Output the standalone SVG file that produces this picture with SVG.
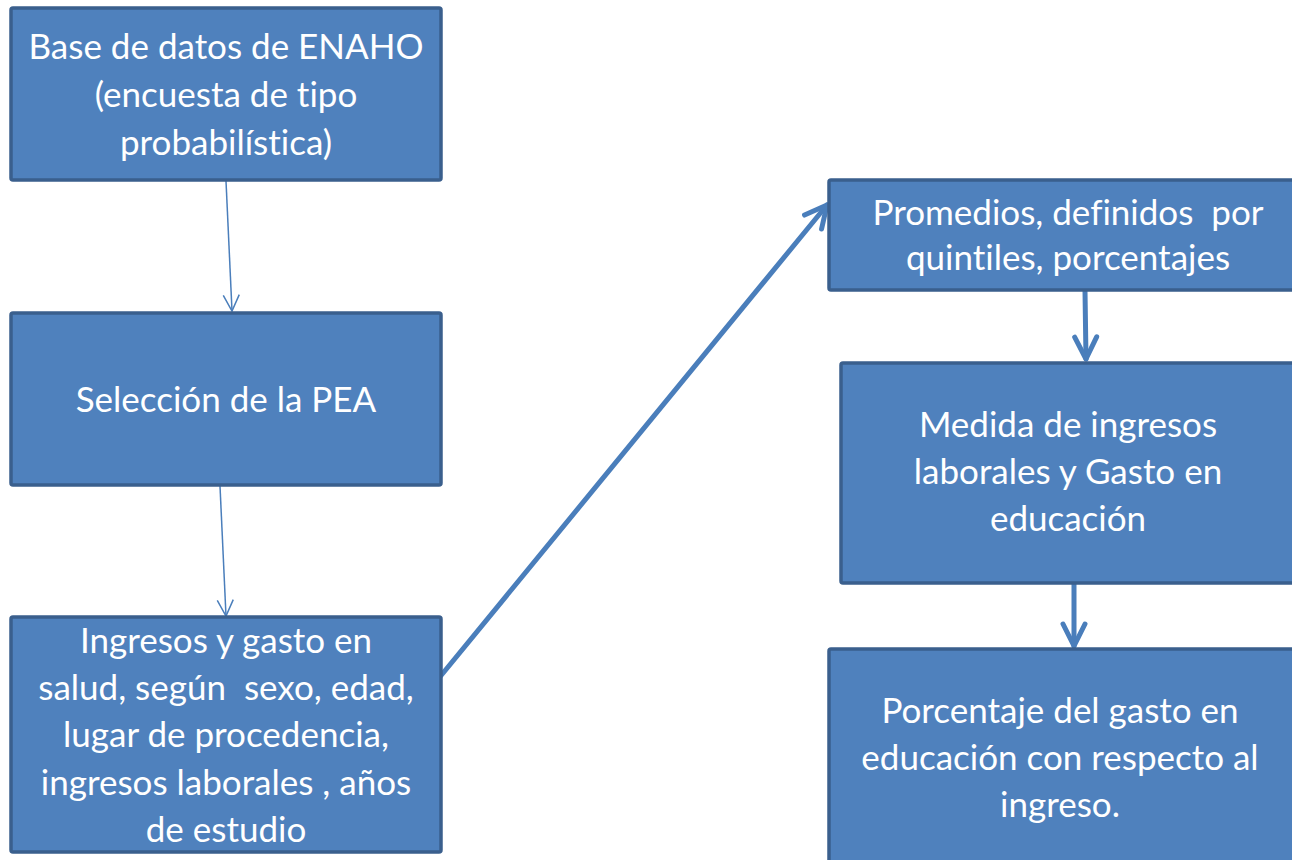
<svg xmlns="http://www.w3.org/2000/svg" width="1292" height="860" viewBox="0 0 1292 860">
<defs>
<style>
.box{fill:#4f81bd;stroke:#3a5f8d;stroke-width:3.5}
.t{font-family:Lato,"Liberation Sans",sans-serif;font-size:35px;fill:#ffffff;text-anchor:middle;font-variant-ligatures:none;white-space:pre}
.thin{stroke:#4a7ebb;stroke-width:1.5;fill:none}
.thick{stroke:#4a7ebb;stroke-width:5;fill:none;stroke-linecap:round}
</style>
<marker id="ah" viewBox="0 0 20 20" refX="18" refY="10" markerWidth="20" markerHeight="20" markerUnits="userSpaceOnUse" orient="auto">
<path d="M2,2 L18,10 L2,18" fill="none" stroke="#4a7ebb" stroke-width="1.5"/>
</marker>
<marker id="ahb" viewBox="0 0 30 30" refX="26" refY="15" markerWidth="30" markerHeight="30" markerUnits="userSpaceOnUse" orient="auto">
<path d="M4,4 L26,15 L4,26" fill="none" stroke="#4a7ebb" stroke-width="5" stroke-linecap="round" stroke-linejoin="round"/>
</marker>
</defs>
<rect width="1292" height="860" fill="#ffffff"/>
<g id="connectors">
<line class="thin" x1="226" y1="181" x2="232" y2="311" marker-end="url(#ah)"/>
<line class="thin" x1="220" y1="486" x2="226" y2="616" marker-end="url(#ah)"/>
<line class="thick" x1="439" y1="678" x2="827" y2="205" marker-end="url(#ahb)"/>
<line class="thick" x1="1085" y1="291" x2="1086" y2="359" marker-end="url(#ahb)"/>
<line class="thick" x1="1074" y1="584" x2="1074" y2="646" marker-end="url(#ahb)"/>
</g>
<g id="n1">
<rect class="box" x="11" y="8" width="430" height="172" rx="2"/>
<text class="t" x="226" y="59">Base de datos de ENAHO</text>
<text class="t" x="226" y="107">(encuesta de tipo</text>
<text class="t" x="226" y="155">probabilística)</text>
</g>
<g id="n2">
<rect class="box" x="11" y="313" width="430" height="172" rx="2"/>
<text class="t" x="226" y="412">Selección de la PEA</text>
</g>
<g id="n3">
<rect class="box" x="11" y="617" width="430" height="235" rx="2"/>
<text class="t" x="226" y="653">Ingresos y gasto en</text>
<text class="t" x="226" y="700" xml:space="preserve">salud, según  sexo, edad,</text>
<text class="t" x="226" y="747">lugar de procedencia,</text>
<text class="t" x="226" y="795">ingresos laborales , años</text>
<text class="t" x="226" y="842">de estudio</text>
</g>
<g id="n4">
<rect class="box" x="829" y="180" width="480" height="110" rx="2"/>
<text class="t" x="1068" y="225" xml:space="preserve">Promedios, definidos  por</text>
<text class="t" x="1068" y="270">quintiles, porcentajes</text>
</g>
<g id="n5">
<rect class="box" x="841" y="363" width="470" height="220" rx="2"/>
<text class="t" x="1068" y="437">Medida de ingresos</text>
<text class="t" x="1068" y="484">laborales y Gasto en</text>
<text class="t" x="1068" y="531">educación</text>
</g>
<g id="n6">
<rect class="box" x="829" y="649" width="480" height="230" rx="2"/>
<text class="t" x="1060" y="723">Porcentaje del gasto en</text>
<text class="t" x="1060" y="770">educación con respecto al</text>
<text class="t" x="1060" y="817">ingreso.</text>
</g>
</svg>
